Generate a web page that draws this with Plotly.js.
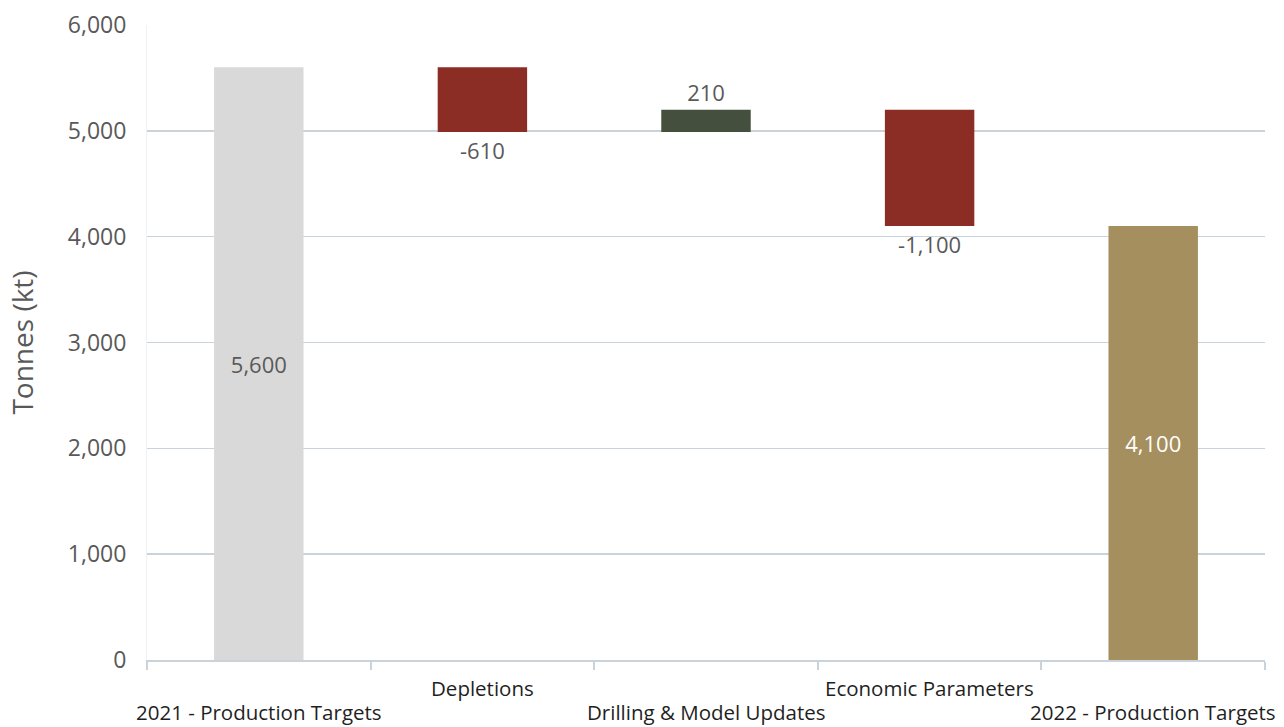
<!DOCTYPE html>
<html>
<head>
<meta charset="utf-8">
<script src="https://cdn.plot.ly/plotly-3.0.1.min.js"></script>
<style>
  html, body { margin: 0; padding: 0; background: #fff; }
  #chart { width: 1284px; height: 727px; }
</style>
</head>
<body>
<div id="chart"></div>
<script>
// Reserve bridge, 2021 to 2022 (kt)
const categories = [
  "2021 - Production Targets",
  "Depletions",
  "Drilling & Model Updates",
  "Economic Parameters",
  "2022 - Production Targets"
];
const changes = [5600, -610, 210, -1100, 4100];
const measures = ["absolute", "relative", "relative", "relative", "total"];
const barColors = ["#d9d9d9", "#8c2d25", "#454f3d", "#8c2d25", "#a58f5e"];
const labelColors = ["#595959", "#595959", "#595959", "#595959", "#ffffff"];
const yTickVals = [0, 1000, 2000, 3000, 4000, 5000, 6000];
const yTickText = ["0", "1,000", "2,000", "3,000", "4,000", "5,000", "6,000"];

// Floating bars: each relative step starts where the running total ended
const bases = [];
const heights = [];
let running = 0;
measures.forEach((m, i) => {
  if (m === "relative") {
    bases.push(running);
    heights.push(changes[i]);
    running += changes[i];
  } else {
    bases.push(0);
    heights.push(changes[i]);
    running = changes[i];
  }
});

const labels = changes.map(v => v.toLocaleString("en-US"));
const textPos = measures.map(m => (m === "relative" ? "outside" : "inside"));

const FONT = "'Open Sans', Lato, sans-serif";

const trace = {
  type: "bar",
  x: categories,
  y: heights,
  base: bases,
  width: 0.4,
  marker: { color: barColors, line: { width: 0 } },
  text: labels,
  textposition: textPos,
  insidetextanchor: "middle",
  textfont: { family: FONT, size: 22, color: labelColors },
  constraintext: "none",
  cliponaxis: false,
  hoverinfo: "skip"
};

// Category names alternate between two rows under the axis
const annotations = categories.map((c, i) => ({
  x: c,
  xref: "x",
  y: 0,
  yref: "paper",
  yshift: i % 2 === 0 ? -36 : -12,
  yanchor: "top",
  text: c,
  showarrow: false,
  font: { family: FONT, size: 20.5, color: "#1f1f1f" }
}));

const layout = {
  width: 1284,
  height: 727,
  margin: { l: 147, r: 19, t: 25, b: 67 },
  paper_bgcolor: "#ffffff",
  plot_bgcolor: "#ffffff",
  showlegend: false,
  hovermode: false,
  font: { family: FONT, color: "#595959" },
  xaxis: {
    type: "category",
    showticklabels: false,
    tickson: "boundaries",
    ticks: "outside",
    ticklen: 8,
    tickcolor: "#c9d3d9",
    tickwidth: 2,
    showline: true,
    linecolor: "#c9d3d9",
    linewidth: 2,
    showgrid: false,
    zeroline: false,
    range: [-0.5, 4.5]
  },
  yaxis: {
    range: [0, 6000],
    tickvals: yTickVals,
    ticktext: yTickText,
    tickfont: { family: FONT, size: 23, color: "#595959" },
    ticks: "outside",
    ticklen: 15,
    tickcolor: "rgba(0,0,0,0)",
    showline: true,
    linecolor: "#eef2f4",
    linewidth: 1,
    showgrid: true,
    gridcolor: "#c9d3d9",
    gridwidth: 1.5,
    zeroline: false,
    title: {
      text: "Tonnes (kt)",
      font: { family: FONT, size: 28, color: "#595959" },
      standoff: 26
    }
  },
  annotations: annotations
};

Plotly.newPlot("chart", [trace], layout, { displayModeBar: false, staticPlot: true });
</script>
</body>
</html>
